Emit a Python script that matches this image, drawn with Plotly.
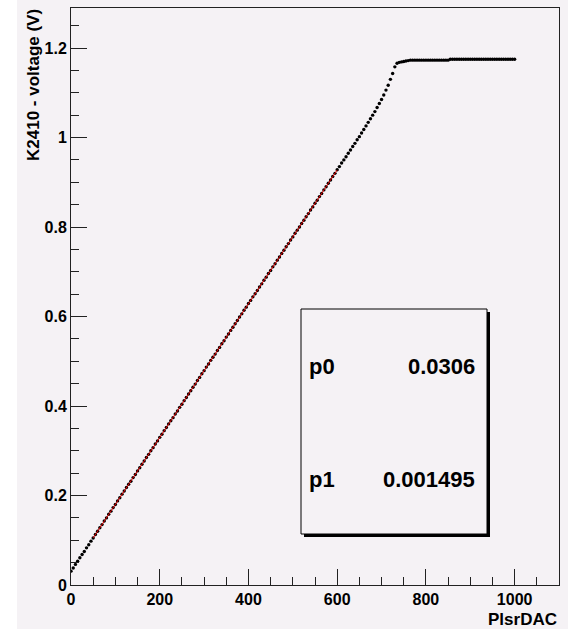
import plotly.graph_objects as go

# ---- data ----
plsr_dac = [
    0, 5, 10, 15, 20, 25, 30, 35, 40, 45, 50, 55, 60, 65, 70, 75, 80, 85, 90, 95,
    100, 105, 110, 115, 120, 125, 130, 135, 140, 145, 150, 155, 160, 165, 170, 175, 180, 185, 190, 195,
    200, 205, 210, 215, 220, 225, 230, 235, 240, 245, 250, 255, 260, 265, 270, 275, 280, 285, 290, 295,
    300, 305, 310, 315, 320, 325, 330, 335, 340, 345, 350, 355, 360, 365, 370, 375, 380, 385, 390, 395,
    400, 405, 410, 415, 420, 425, 430, 435, 440, 445, 450, 455, 460, 465, 470, 475, 480, 485, 490, 495,
    500, 505, 510, 515, 520, 525, 530, 535, 540, 545, 550, 555, 560, 565, 570, 575, 580, 585, 590, 595,
    600, 605, 610, 615, 620, 625, 630, 635, 640, 645, 650, 655, 660, 665, 670, 675, 680, 685, 690, 695,
    700, 705, 710, 715, 720, 725, 730, 735, 740, 745, 750, 755, 760, 765, 770, 775, 780, 785, 790, 795,
    800, 805, 810, 815, 820, 825, 830, 835, 840, 845, 850, 855, 860, 865, 870, 875, 880, 885, 890, 895,
    900, 905, 910, 915, 920, 925, 930, 935, 940, 945, 950, 955, 960, 965, 970, 975, 980, 985, 990, 995,
    1000,
]
k2410_voltage = [
    0.031, 0.038, 0.046, 0.053, 0.061, 0.068, 0.075, 0.083, 0.090, 0.098,
    0.105, 0.113, 0.120, 0.128, 0.135, 0.143, 0.150, 0.158, 0.165, 0.173,
    0.180, 0.188, 0.195, 0.203, 0.210, 0.218, 0.225, 0.232, 0.240, 0.247,
    0.255, 0.262, 0.270, 0.277, 0.285, 0.292, 0.300, 0.307, 0.315, 0.322,
    0.330, 0.337, 0.345, 0.352, 0.360, 0.367, 0.374, 0.382, 0.389, 0.397,
    0.404, 0.412, 0.419, 0.427, 0.434, 0.442, 0.449, 0.457, 0.464, 0.472,
    0.479, 0.487, 0.494, 0.502, 0.509, 0.516, 0.524, 0.531, 0.539, 0.546,
    0.554, 0.561, 0.569, 0.576, 0.584, 0.591, 0.599, 0.606, 0.614, 0.621,
    0.629, 0.636, 0.644, 0.651, 0.658, 0.666, 0.673, 0.681, 0.688, 0.696,
    0.703, 0.711, 0.718, 0.726, 0.733, 0.741, 0.748, 0.756, 0.763, 0.771,
    0.778, 0.786, 0.793, 0.800, 0.808, 0.815, 0.823, 0.830, 0.838, 0.845,
    0.853, 0.860, 0.868, 0.875, 0.883, 0.890, 0.898, 0.905, 0.913, 0.920,
    0.928, 0.935, 0.943, 0.950, 0.957, 0.965, 0.972, 0.980, 0.987, 0.995,
    1.002, 1.010, 1.018, 1.026, 1.034, 1.042, 1.050, 1.058, 1.067, 1.076,
    1.085, 1.095, 1.106, 1.117, 1.130, 1.143, 1.158, 1.166, 1.168, 1.169,
    1.170, 1.171, 1.172, 1.173, 1.173, 1.173, 1.173, 1.173, 1.173, 1.173,
    1.173, 1.173, 1.173, 1.173, 1.173, 1.173, 1.173, 1.173, 1.173, 1.173,
    1.173, 1.175, 1.175, 1.175, 1.175, 1.175, 1.175, 1.175, 1.175, 1.175,
    1.175, 1.175, 1.175, 1.175, 1.175, 1.175, 1.175, 1.175, 1.175, 1.175,
    1.175, 1.175, 1.175, 1.175, 1.175, 1.175, 1.175, 1.175, 1.175, 1.175,
    1.175,
]

fit_params = ["p0", "p1"]
fit_values = [0.0306, 0.001495]
fit_labels = ["0.0306", "0.001495"]
fit_range = [50, 600]

x_title = "PlsrDAC"
y_title = "K2410 - voltage (V)"

# ---- layout geometry (pixels) ----
W, H = 568, 629
L, R, T, B = 71, 559, 8, 585
PW, PH = R - L, B - T


def px(x):
    return (x - L) / PW


def py(y):
    return (B - y) / PH


BG = "#f5f2f5"
FONT = "Liberation Sans, Arial, sans-serif"
AX = "#222222"

fit_y = [fit_values[0] + fit_values[1] * x for x in fit_range]

fig = go.Figure()
fig.add_trace(go.Scatter(x=plsr_dac, y=k2410_voltage, mode="markers",
                         marker=dict(color="black", size=3.4, line=dict(width=0))))
fig.add_trace(go.Scatter(x=fit_range, y=fit_y, mode="lines",
                         line=dict(color="#e00000", width=1), hoverinfo="skip"))

tickfont = dict(family=FONT, size=16, color="black", weight="bold")

fig.update_layout(
    width=W, height=H,
    margin=dict(l=L, r=W - R, t=T, b=H - B, pad=0),
    paper_bgcolor=BG, plot_bgcolor=BG,
    showlegend=False,
    xaxis=dict(range=[0, 1100], dtick=200, tick0=0,
               showgrid=False, zeroline=False, showline=True, mirror=True,
               linecolor=AX, linewidth=1,
               ticks="inside", ticklen=16, tickwidth=1, tickcolor=AX,
               tickfont=tickfont,
               minor=dict(ticks="inside", ticklen=8, dtick=50, tickcolor=AX)),
    yaxis=dict(range=[0, 1.2895], dtick=0.2, tick0=0,
               showgrid=False, zeroline=False, showline=True, mirror=True,
               linecolor=AX, linewidth=1,
               ticks="inside", ticklen=16, tickwidth=1, tickcolor=AX,
               tickfont=tickfont,
               minor=dict(ticks="inside", ticklen=8, dtick=0.05, tickcolor=AX)),
)

shapes = [
    # white strip at the left edge
    dict(type="rect", xref="paper", yref="paper", x0=px(0), x1=px(17), y0=py(H), y1=py(0),
         fillcolor="white", line=dict(width=0), layer="below"),
    # stats box shadow
    dict(type="rect", xref="paper", yref="paper", x0=px(304), x1=px(490), y0=py(537), y1=py(312),
         fillcolor="black", line=dict(width=0), layer="above"),
    # stats box
    dict(type="rect", xref="paper", yref="paper", x0=px(301), x1=px(487), y0=py(534), y1=py(309),
         fillcolor=BG, line=dict(color="black", width=1), layer="above"),
]
fig.update_layout(shapes=shapes)

anns = [
    dict(text=y_title, xref="paper", yref="paper", x=px(33), y=py(7), xanchor="center", yanchor="top",
         textangle=-90, showarrow=False, font=dict(family=FONT, size=17, color="black", weight="bold")),
    dict(text=x_title, xref="paper", yref="paper", x=px(559), y=py(619), xanchor="right", yanchor="middle",
         showarrow=False, font=dict(family=FONT, size=17, color="black", weight="bold")),
]
row_y = [366, 479]
for name, lab, yy in zip(fit_params, fit_labels, row_y):
    anns.append(dict(text=name, xref="paper", yref="paper", x=px(307), y=py(yy), xanchor="left",
                     yanchor="middle", showarrow=False,
                     font=dict(family=FONT, size=22, color="black", weight="bold")))
    anns.append(dict(text=lab, xref="paper", yref="paper", x=px(477), y=py(yy), xanchor="right",
                     yanchor="middle", showarrow=False,
                     font=dict(family=FONT, size=22, color="black", weight="bold")))
fig.update_layout(annotations=anns)

fig.write_html("out.html", config={"displayModeBar": False},
               post_script="document.body.style.margin='0';document.body.style.padding='0';"
                           "document.body.style.overflow='hidden';")
